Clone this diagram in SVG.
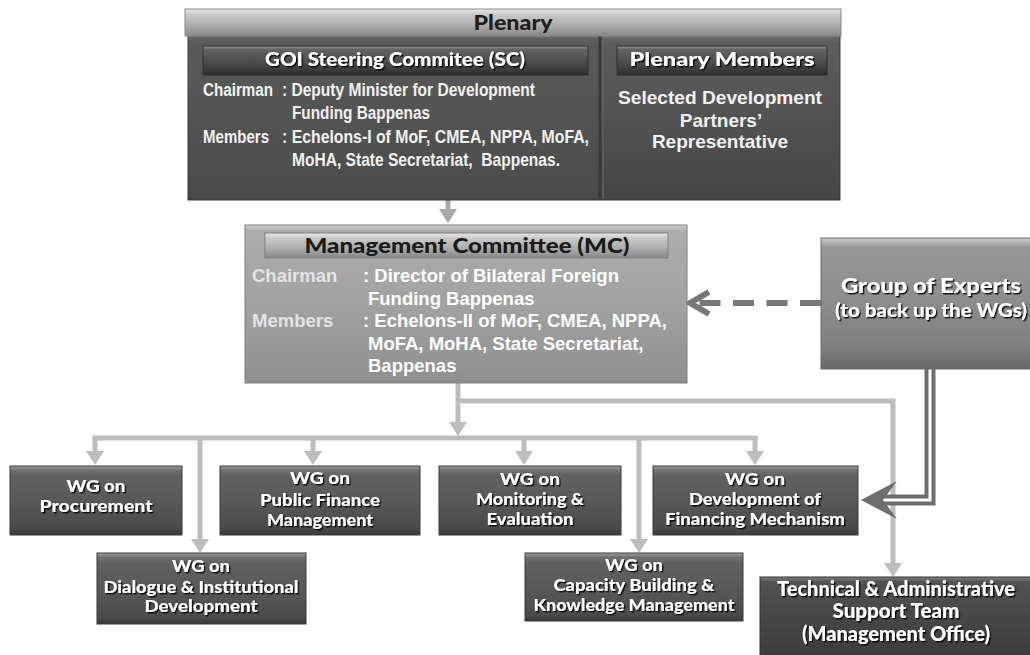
<svg xmlns="http://www.w3.org/2000/svg" width="1030" height="655" viewBox="0 0 1030 655">
  <defs>
    <linearGradient id="gWG" x1="0" y1="0" x2="0" y2="1">
      <stop offset="0" stop-color="#a0a0a0"/>
      <stop offset="0.06" stop-color="#727272"/>
      <stop offset="0.14" stop-color="#616161"/>
      <stop offset="0.55" stop-color="#575757"/>
      <stop offset="0.9" stop-color="#4b4b4b"/>
      <stop offset="1" stop-color="#3a3a3a"/>
    </linearGradient>
    <linearGradient id="gPlen" x1="0" y1="0" x2="0" y2="1">
      <stop offset="0" stop-color="#6e6e6e"/>
      <stop offset="0.05" stop-color="#5c5c5c"/>
      <stop offset="0.5" stop-color="#525252"/>
      <stop offset="1" stop-color="#454545"/>
    </linearGradient>
    <linearGradient id="gLight" x1="0" y1="0" x2="0" y2="1">
      <stop offset="0" stop-color="#e8e8e8"/>
      <stop offset="0.2" stop-color="#cacaca"/>
      <stop offset="0.65" stop-color="#a9a9a9"/>
      <stop offset="1" stop-color="#878787"/>
    </linearGradient>
    <linearGradient id="gBar" x1="0" y1="0" x2="0" y2="1">
      <stop offset="0" stop-color="#969696"/>
      <stop offset="0.12" stop-color="#636363"/>
      <stop offset="0.6" stop-color="#4a4a4a"/>
      <stop offset="1" stop-color="#2f2f2f"/>
    </linearGradient>
    <linearGradient id="gMC" x1="0" y1="0" x2="0" y2="1">
      <stop offset="0" stop-color="#cfcfcf"/>
      <stop offset="0.04" stop-color="#acacac"/>
      <stop offset="0.5" stop-color="#a2a2a2"/>
      <stop offset="1" stop-color="#8f8f8f"/>
    </linearGradient>
    <linearGradient id="gGrp" x1="0" y1="0" x2="0" y2="1">
      <stop offset="0" stop-color="#cdcdcd"/>
      <stop offset="0.07" stop-color="#989898"/>
      <stop offset="0.5" stop-color="#8c8c8c"/>
      <stop offset="0.85" stop-color="#7f7f7f"/>
      <stop offset="1" stop-color="#676767"/>
    </linearGradient>
    <linearGradient id="gTech" x1="0" y1="0" x2="0" y2="1">
      <stop offset="0" stop-color="#808080"/>
      <stop offset="0.06" stop-color="#525252"/>
      <stop offset="1" stop-color="#3b3b3b"/>
    </linearGradient>
    <filter id="ts" x="-5%" y="-20%" width="110%" height="140%">
      <feDropShadow dx="1.4" dy="1.4" stdDeviation="0.6" flood-color="#000" flood-opacity="0.9"/>
    </filter>
    <marker id="ah" markerUnits="userSpaceOnUse" markerWidth="18" markerHeight="18" refX="0" refY="9" orient="auto" viewBox="0 0 14 18">
      <path d="M0,0 L14,9 L0,18 Z" fill="#bdbdbd"/>
    </marker>
    <marker id="ahDark" markerUnits="userSpaceOnUse" markerWidth="18" markerHeight="18" refX="0" refY="9" orient="auto" viewBox="0 0 14 18">
      <path d="M0,0 L14,9 L0,18 Z" fill="#a9a9a9"/>
    </marker>
  </defs>
  <style>
    .wg { fill: url(#gWG); stroke: #3a3a3a; stroke-width: 1; }
    .ht { font-family: Lato, "Open Sans", sans-serif; font-weight: 900; text-anchor: middle; }
    .wt { fill: #ffffff; font-size: 17.5px; filter: url(#ts); }
    .bt { font-family: "Liberation Sans", Arial, sans-serif; font-weight: 700; font-size: 18px; }
    .conn { fill: none; stroke: #bdbdbd; stroke-width: 5; }
  </style>

  <rect width="1030" height="655" fill="#ffffff"/>

  <!-- connectors -->
  <g id="connectors">
    <path class="conn" d="M448,200 V209" style="stroke:#a9a9a9" marker-end="url(#ahDark)"/>
    <path class="conn" d="M458,382 V422" marker-end="url(#ah)"/>
    <path class="conn" d="M458,401 H893 V563" stroke-linejoin="miter" marker-end="url(#ah)"/>
    <path class="conn" d="M92.5,438 H757.5"/>
    <path class="conn" d="M95,436 V451" marker-end="url(#ah)"/>
    <path class="conn" d="M200,436 V539" marker-end="url(#ah)"/>
    <path class="conn" d="M313,436 V451" marker-end="url(#ah)"/>
    <path class="conn" d="M524,436 V451" marker-end="url(#ah)"/>
    <path class="conn" d="M639,436 V539" marker-end="url(#ah)"/>
    <path class="conn" d="M755,436 V451" marker-end="url(#ah)"/>
    <!-- dashed advisory link -->
    <path d="M821,303 H693" fill="none" stroke="#787878" stroke-width="6" stroke-dasharray="21 12.5"/>
    <path d="M709,292 L690,303 L709,314" fill="none" stroke="#787878" stroke-width="6" stroke-linejoin="miter"/>
    <!-- double-line support link -->
    <path d="M930,369 V500 H883" fill="none" stroke="#6e6e6e" stroke-width="11" stroke-linejoin="miter"/>
    <path d="M930,369 V500 H883" fill="none" stroke="#ffffff" stroke-width="3" stroke-linejoin="miter"/>
    <polygon points="861,500 897,481 883,500 897,519" fill="#6e6e6e"/>
  </g>

  <!-- Plenary -->
  <g id="plenary">
    <rect x="188" y="35" width="652" height="165" fill="url(#gPlen)" stroke="#3a3a3a"/>
    <rect x="190" y="38" width="409" height="160" fill="#555555" opacity="0.35"/>
    <line x1="600" y1="36" x2="600" y2="199" stroke="#3a3a3a" stroke-width="3"/>
    <line x1="603" y1="37" x2="603" y2="199" stroke="#6a6a6a" stroke-width="1"/>
    <rect x="185" y="9" width="656" height="27" fill="url(#gLight)" stroke="#8a8a8a"/>
    <text class="ht" x="513" y="30" font-size="20" fill="#1e1e1e" textLength="79" lengthAdjust="spacingAndGlyphs">Plenary</text>
  </g>

  <g id="goi-steering">
    <rect x="203" y="46" width="385" height="29" fill="url(#gBar)" stroke="#2e2e2e"/>
    <text class="ht wt" x="395" y="66" textLength="260" lengthAdjust="spacingAndGlyphs" style="font-size:19px">GOI Steering Commitee (SC)</text>
    <g class="bt" fill="#f2f2f2">
      <text x="203" y="96" textLength="70" lengthAdjust="spacingAndGlyphs">Chairman</text>
      <text x="282" y="96" textLength="253" lengthAdjust="spacingAndGlyphs">: Deputy Minister for Development</text>
      <text x="292" y="119" textLength="138" lengthAdjust="spacingAndGlyphs">Funding Bappenas</text>
      <text x="203" y="143" textLength="66" lengthAdjust="spacingAndGlyphs">Members</text>
      <text x="282" y="143" textLength="307" lengthAdjust="spacingAndGlyphs">: Echelons-I of MoF, CMEA, NPPA, MoFA,</text>
      <text x="292" y="166" textLength="268" lengthAdjust="spacingAndGlyphs" xml:space="preserve">MoHA, State Secretariat,  Bappenas.</text>
    </g>
  </g>

  <g id="plenary-members">
    <rect x="617" y="46" width="210" height="29" fill="url(#gBar)" stroke="#2e2e2e"/>
    <text class="ht wt" x="722" y="66" textLength="185" lengthAdjust="spacingAndGlyphs" style="font-size:19px">Plenary Members</text>
    <g class="bt" fill="#f2f2f2" text-anchor="middle" style="font-size:19px">
      <text x="720" y="104" textLength="204" lengthAdjust="spacingAndGlyphs">Selected Development</text>
      <text x="721" y="127">Partners’</text>
      <text x="720" y="148">Representative</text>
    </g>
  </g>

  <!-- Management Committee -->
  <g id="management-committee">
    <rect x="245" y="225" width="442" height="158" fill="url(#gMC)" stroke="#7e7e7e"/>
    <rect x="265" y="233" width="403" height="25" fill="url(#gLight)" stroke="#808080"/>
    <text class="ht" x="467" y="253" font-size="21" fill="#1a1a1a" textLength="325" lengthAdjust="spacingAndGlyphs">Management Committee (MC)</text>
    <g class="bt" style="font-size:18.5px">
      <text x="252" y="282" fill="#e4e4e4">Chairman</text>
      <text x="363" y="282" fill="#ffffff">: Director of Bilateral Foreign</text>
      <text x="368" y="304.5" fill="#ffffff">Funding Bappenas</text>
      <text x="252" y="327" fill="#e4e4e4">Members</text>
      <text x="363" y="327" fill="#ffffff">: Echelons-II of MoF, CMEA, NPPA,</text>
      <text x="368" y="349.5" fill="#ffffff">MoFA, MoHA, State Secretariat,</text>
      <text x="368" y="372" fill="#ffffff">Bappenas</text>
    </g>
  </g>

  <!-- Group of Experts -->
  <g id="group-of-experts">
    <rect x="821" y="238" width="212" height="131" fill="url(#gGrp)" stroke="#6a6a6a"/>
    <text class="ht wt" x="931" y="293" textLength="180" lengthAdjust="spacingAndGlyphs" style="font-size:21px">Group of Experts</text>
    <text class="ht wt" x="931" y="317" textLength="192" lengthAdjust="spacingAndGlyphs" style="font-size:18px">(to back up the WGs)</text>
  </g>

  <!-- Working groups -->
  <g id="wg-procurement">
    <rect class="wg" x="10" y="466" width="172" height="69"/>
    <text class="ht wt" x="96" y="492" textLength="59" lengthAdjust="spacingAndGlyphs">WG on</text>
    <text class="ht wt" x="96" y="512" textLength="113" lengthAdjust="spacingAndGlyphs">Procurement</text>
  </g>
  <g id="wg-public-finance">
    <rect class="wg" x="220" y="466" width="200" height="69"/>
    <text class="ht wt" x="320" y="484" textLength="60" lengthAdjust="spacingAndGlyphs">WG on</text>
    <text class="ht wt" x="320" y="506" textLength="120" lengthAdjust="spacingAndGlyphs">Public Finance</text>
    <text class="ht wt" x="320" y="526" textLength="106" lengthAdjust="spacingAndGlyphs">Management</text>
  </g>
  <g id="wg-monitoring">
    <rect class="wg" x="439" y="466" width="182" height="69"/>
    <text class="ht wt" x="530" y="485" textLength="60" lengthAdjust="spacingAndGlyphs">WG on</text>
    <text class="ht wt" x="530" y="505" textLength="108" lengthAdjust="spacingAndGlyphs">Monitoring &amp;</text>
    <text class="ht wt" x="530" y="525" textLength="87" lengthAdjust="spacingAndGlyphs">Evaluation</text>
  </g>
  <g id="wg-financing">
    <rect class="wg" x="653" y="466" width="205" height="69"/>
    <text class="ht wt" x="755" y="485" textLength="60" lengthAdjust="spacingAndGlyphs">WG on</text>
    <text class="ht wt" x="755" y="505" textLength="132" lengthAdjust="spacingAndGlyphs">Development of</text>
    <text class="ht wt" x="755" y="525" textLength="180" lengthAdjust="spacingAndGlyphs">Financing Mechanism</text>
  </g>
  <g id="wg-dialogue">
    <rect class="wg" x="97" y="553" width="209" height="71"/>
    <text class="ht wt" x="201" y="572" textLength="58" lengthAdjust="spacingAndGlyphs">WG on</text>
    <text class="ht wt" x="201" y="593" textLength="195" lengthAdjust="spacingAndGlyphs">Dialogue &amp; Institutional</text>
    <text class="ht wt" x="201" y="612" textLength="113" lengthAdjust="spacingAndGlyphs">Development</text>
  </g>
  <g id="wg-capacity">
    <rect class="wg" x="525" y="553" width="218" height="68"/>
    <text class="ht wt" x="634" y="571" textLength="58" lengthAdjust="spacingAndGlyphs">WG on</text>
    <text class="ht wt" x="634" y="591" textLength="161" lengthAdjust="spacingAndGlyphs">Capacity Building &amp;</text>
    <text class="ht wt" x="634" y="611" textLength="201" lengthAdjust="spacingAndGlyphs">Knowledge Management</text>
  </g>

  <!-- Support team -->
  <g id="support-team">
    <rect x="760" y="577" width="273" height="80" fill="url(#gTech)" stroke="#333333"/>
    <text class="ht wt" x="896" y="596" textLength="238" lengthAdjust="spacingAndGlyphs" style="font-size:20px">Technical &amp; Administrative</text>
    <text class="ht wt" x="896" y="618" textLength="127" lengthAdjust="spacingAndGlyphs" style="font-size:20px">Support Team</text>
    <text class="ht wt" x="896" y="641" textLength="188" lengthAdjust="spacingAndGlyphs" style="font-size:20px">(Management Office)</text>
  </g>
</svg>
